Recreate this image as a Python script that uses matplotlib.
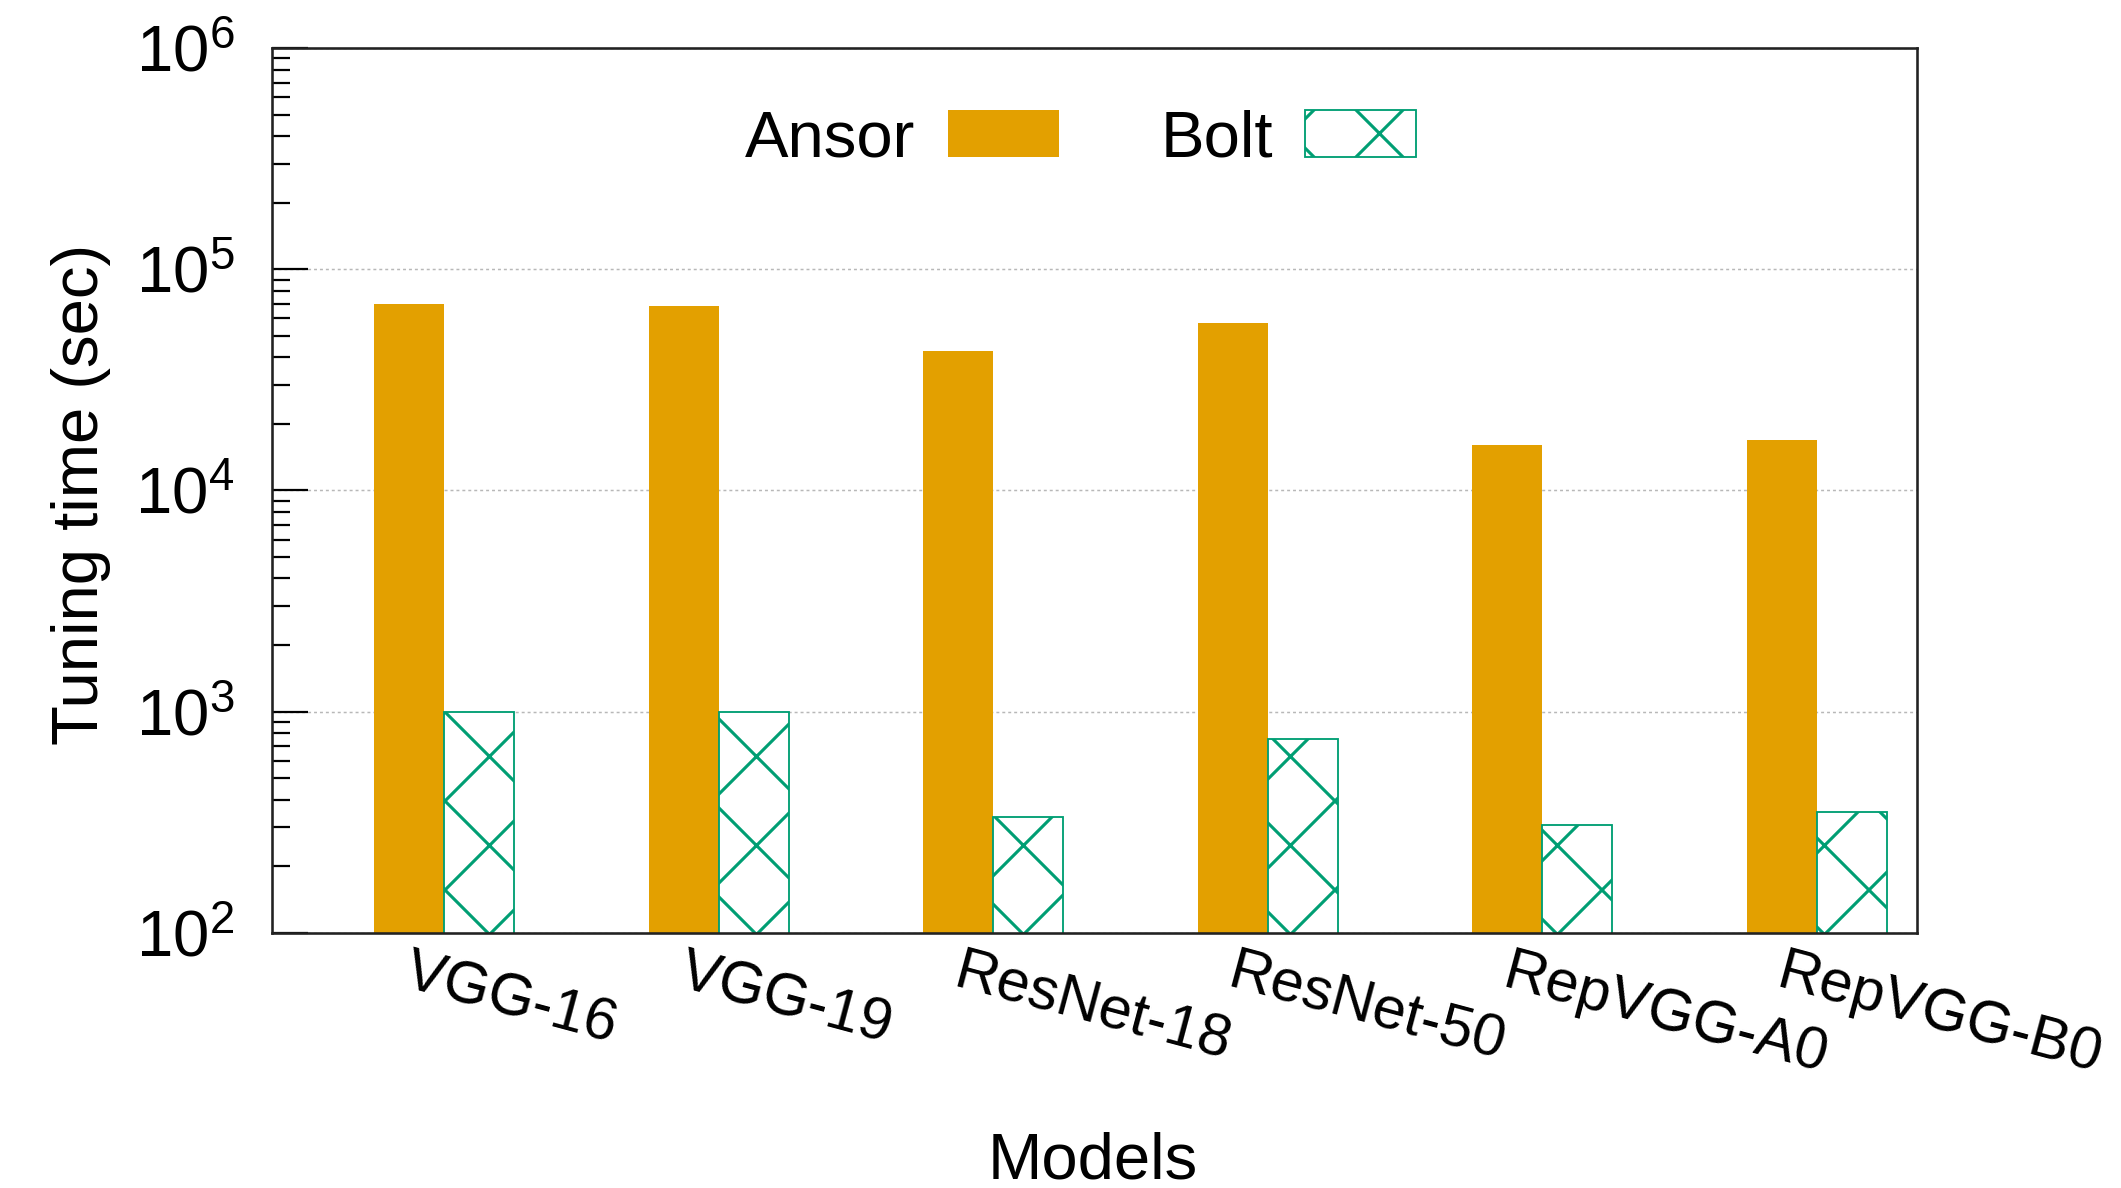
import matplotlib
matplotlib.use("Agg")
import matplotlib.pyplot as plt
import numpy as np
from matplotlib.patches import Patch
from matplotlib.ticker import LogLocator, LogFormatterSciNotation, NullFormatter
from matplotlib.transforms import ScaledTranslation

# ---- data -------------------------------------------------------------
models = ["VGG-16", "VGG-19", "ResNet-18", "ResNet-50", "RepVGG-A0", "RepVGG-B0"]
ansor_time = [69500, 68300, 42900, 57000, 16100, 17000]
bolt_time = [1000, 1000, 335, 755, 306, 351]
series_names = ["Ansor", "Bolt"]

# ---- style --------------------------------------------------------------
ANSOR_COLOR = "#E3A000"
BOLT_COLOR = "#009E73"
DPI = 534
W, H = 2121, 1188
FS = 8.8
FS_XT = 8.0

plt.rcParams["font.family"] = ["Liberation Sans", "DejaVu Sans"]
plt.rcParams["mathtext.fontset"] = "custom"
plt.rcParams["mathtext.rm"] = "Liberation Sans"
plt.rcParams["hatch.linewidth"] = 0.42

fig = plt.figure(figsize=((W + 0.01) / DPI, (H + 0.01) / DPI), dpi=DPI)
ax = fig.add_axes([271.7 / W, 1 - 932.7 / H, (1917 - 271.7) / W, (932.7 - 48.3) / H])

x = np.arange(len(models))
w = 0.255
ax.bar(x - w / 2, ansor_time, width=w, color=ANSOR_COLOR, edgecolor="none", zorder=2)
ax.bar(x + w / 2, bolt_time, width=w, facecolor="white", edgecolor=BOLT_COLOR,
       hatch="xx", linewidth=0.25, zorder=2)

ax.set_yscale("log")
ax.set_ylim(1e2, 1e6)
ax.set_xlim(-0.628, 5.366)

ax.yaxis.set_major_locator(LogLocator(base=10, numticks=10))
ax.yaxis.set_major_formatter(LogFormatterSciNotation())
ax.yaxis.set_minor_locator(LogLocator(base=10, subs=np.arange(2, 10), numticks=20))
ax.yaxis.set_minor_formatter(NullFormatter())

ax.set_axisbelow(True)
ax.yaxis.grid(True, which="major", color="#b8b8b8", linestyle=(0, (2, 2)), linewidth=0.2)

for s in ax.spines.values():
    s.set_linewidth(0.35)
    s.set_color("#222222")

ax.tick_params(axis="y", which="major", direction="in", length=4.9, width=0.3,
               pad=5.0, labelsize=FS)
ax.tick_params(axis="y", which="minor", direction="in", length=2.4, width=0.3)
ax.tick_params(axis="x", length=0, pad=1.6, labelsize=FS_XT)

ax.set_xticks(x)
ax.set_xticklabels(models, rotation=-15, ha="left", va="top", rotation_mode="anchor")
shift = ScaledTranslation(-31 / DPI, 0, fig.dpi_scale_trans)
for lbl in ax.get_xticklabels():
    lbl.set_transform(lbl.get_transform() + shift)

fig.text(81 / W, 1 - 494 / H, "Tuning time (sec)", rotation=90,
         ha="center", va="center", fontsize=FS)
fig.text(1093 / W, 1 - 1178 / H, "Models", ha="center", va="baseline", fontsize=FS)

handles = [
    Patch(facecolor=ANSOR_COLOR, edgecolor="none"),
    Patch(facecolor="white", edgecolor=BOLT_COLOR, hatch="xx", linewidth=0.25),
]
ax.legend(handles, series_names, ncol=2, markerfirst=False, frameon=False,
          loc="center left", bbox_to_anchor=(745 / W, 1 - 139 / H),
          bbox_transform=fig.transFigure, borderpad=0, borderaxespad=0,
          handlelength=1.70, handleheight=0.735, handletextpad=0.5,
          columnspacing=1.55, fontsize=FS)

fig.savefig("out.png", dpi=DPI)
